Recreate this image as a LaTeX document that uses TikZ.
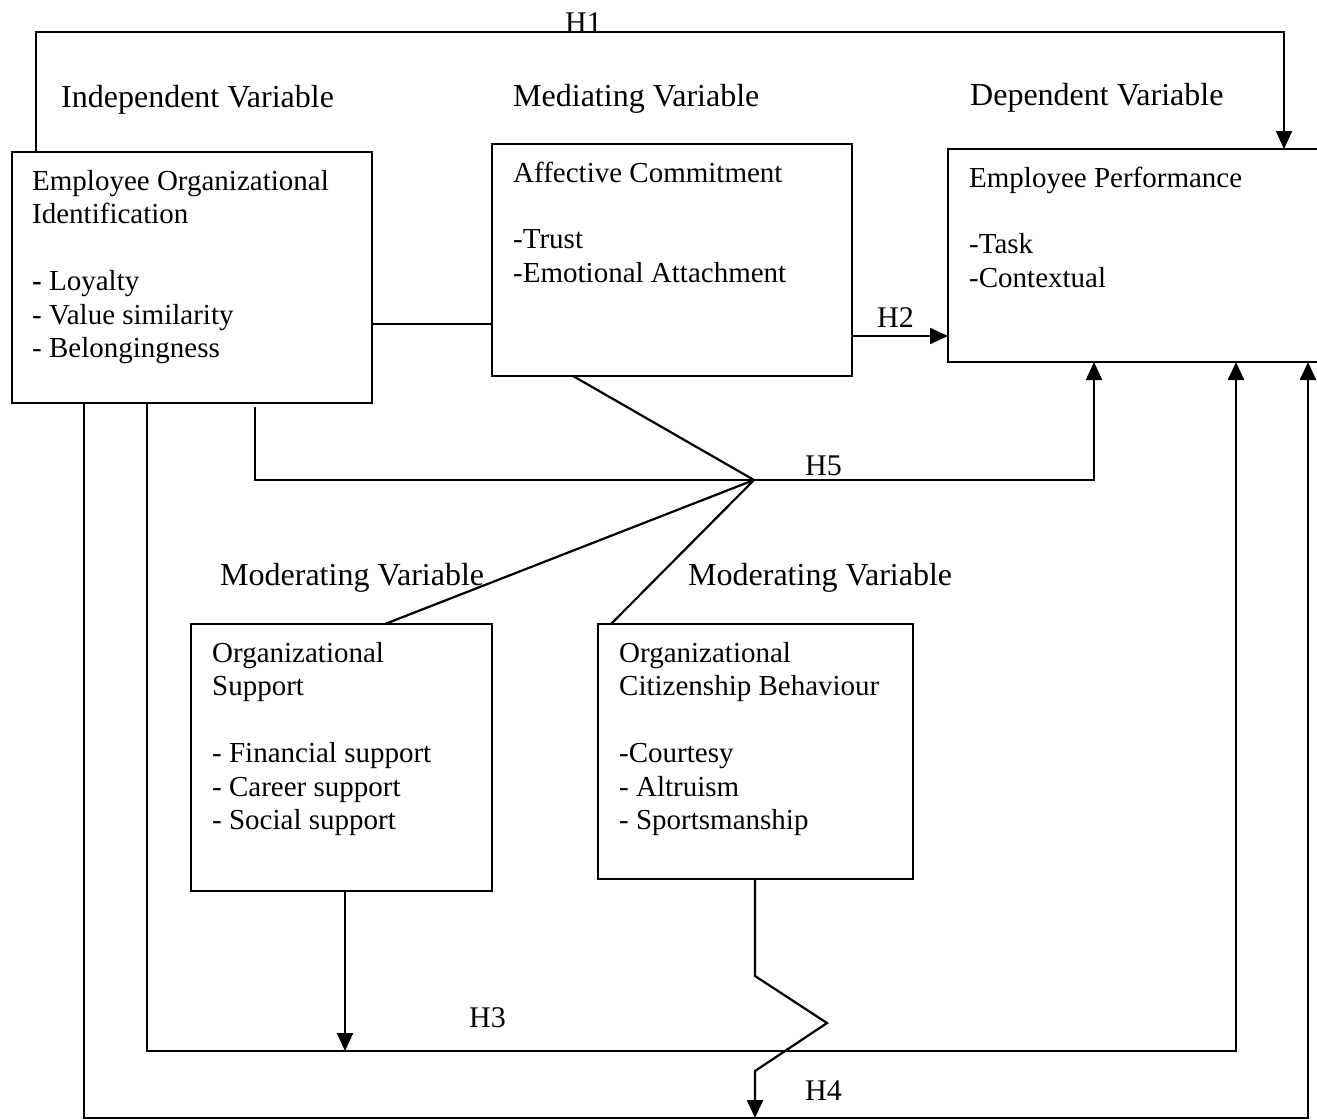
\documentclass[tikz,border=0pt]{standalone}
\usepackage{fontspec}
\setmainfont{Liberation Serif}
\usetikzlibrary{arrows.meta}
\begin{document}
\begin{tikzpicture}[x=1pt,y=-1pt,
  box/.style={draw, line width=2.2pt, inner sep=0pt, outer sep=0pt},
  ln/.style={line width=2.2pt},
  arr/.style={line width=2.2pt, -{Triangle[length=18pt,width=16pt]}},
  txt/.style={anchor=base west, inner sep=0pt, font=\fontsize{29}{33.5}\selectfont},
  hdr/.style={anchor=base west, inner sep=0pt, font=\fontsize{32}{38}\selectfont},
  hl/.style={anchor=base west, inner sep=0pt, font=\fontsize{30}{36}\selectfont}]
\useasboundingbox (0,0) rectangle (1317,1119);
\clip (0,0) rectangle (1317,1119);

% boxes
\node[box, minimum width=360pt, minimum height=251pt] (eoi) at (192,277.5) {};
\node[box, minimum width=360pt, minimum height=232pt] (ac)  at (672,260) {};
\node[box, minimum width=402pt, minimum height=213pt] (ep)  at (1149,255.5) {};
\node[box, minimum width=301pt, minimum height=267pt] (os)  at (341.5,757.5) {};
\node[box, minimum width=315pt, minimum height=255pt] (ocb) at (755.5,751.5) {};

% headers
\node[hdr] (hind) at (61,107) {Independent Variable};
\node[hdr] (hmed) at (513,106) {Mediating Variable};
\node[hdr] (hdep) at (970,105) {Dependent Variable};
\node[hdr] (hmo1) at (220,585) {Moderating Variable};
\node[hdr] (hmo2) at (688,585) {Moderating Variable};

% box texts
\node[txt] (t1a) at (32,190) {Employee Organizational};
\node[txt] (t1b) at (32,223.5) {Identification};
\node[txt] (t1c) at (32,290.5) {{\bfseries -} Loyalty};
\node[txt] (t1d) at (32,324) {- Value similarity};
\node[txt] (t1e) at (32,357.5) {- Belongingness};

\node[txt] (t2a) at (513,182) {Affective Commitment};
\node[txt] (t2b) at (513,248) {-Trust};
\node[txt] (t2c) at (513,282) {-Emotional Attachment};

\node[txt] (t3a) at (969,187) {Employee Performance};
\node[txt] (t3b) at (969,253.5) {-Task};
\node[txt] (t3c) at (969,287.5) {-Contextual};

\node[txt] (t4a) at (212,662) {Organizational};
\node[txt] (t4b) at (212,695.5) {Support};
\node[txt] (t4c) at (212,762.5) {- Financial support};
\node[txt] (t4d) at (212,796) {- Career support};
\node[txt] (t4e) at (212,829.5) {- Social support};

\node[txt] (t5a) at (619,662) {Organizational};
\node[txt] (t5b) at (619,695.5) {Citizenship Behaviour};
\node[txt] (t5c) at (619,762.5) {-Courtesy};
\node[txt] (t5d) at (619,796) {- Altruism};
\node[txt] (t5e) at (619,829.5) {- Sportsmanship};

% hypothesis labels
\node[hl] (lh1) at (565,32) {H1};
\node[hl] (lh2) at (877,327) {H2};
\node[hl] (lh5) at (805,475) {H5};
\node[hl] (lh3) at (469,1027) {H3};
\node[hl] (lh4) at (805,1100) {H4};

% coordinates
\coordinate (h1turn) at (1284,32);
\coordinate (m1) at (430,324);
\coordinate (m2) at (900,336);
\coordinate (hub) at (754,480);
\coordinate (h3turn) at (1236,1051);
\coordinate (h3mid) at (345,1051);
\coordinate (h4turn) at (1308,1118);
\coordinate (h4mid) at (755,1118);
\coordinate (z1) at (755,976);
\coordinate (z2) at (827,1023);
\coordinate (z3) at (755,1071);

% H1
\draw[arr] ([xshift=24pt]eoi.north west) |- (h1turn) -- ([xshift=336pt]ep.north west);
% EOI -- AC
\draw[ln] (eoi.east |- m1) -- (ac.west |- m1);
% H2
\draw[arr] (ac.east |- m2) -- (ep.west |- m2);
% AC to hub
\draw[ln] ([xshift=81pt]ac.south west) -- (hub);
% H5
\draw[arr] ([xshift=243pt,yshift=-4pt]eoi.south west) |- (hub) -| ([xshift=146pt]ep.south west);
% hub to moderators
\draw[ln] (hub) -- ([xshift=194pt]os.north west);
\draw[ln] (hub) -- ([xshift=13pt]ocb.north west);
% H3
\draw[arr] ([xshift=135pt]eoi.south west) |- (h3turn) -- ([xshift=288pt]ep.south west);
\draw[arr] ([xshift=154pt]os.south west) -- (h3mid);
% H4
\draw[arr] ([xshift=72pt]eoi.south west) |- (h4turn) -- ([xshift=360pt]ep.south west);
\draw[arr] ([xshift=157pt]ocb.south west) -- (z1) -- (z2) -- (z3) -- (h4mid);
\end{tikzpicture}
\end{document}
